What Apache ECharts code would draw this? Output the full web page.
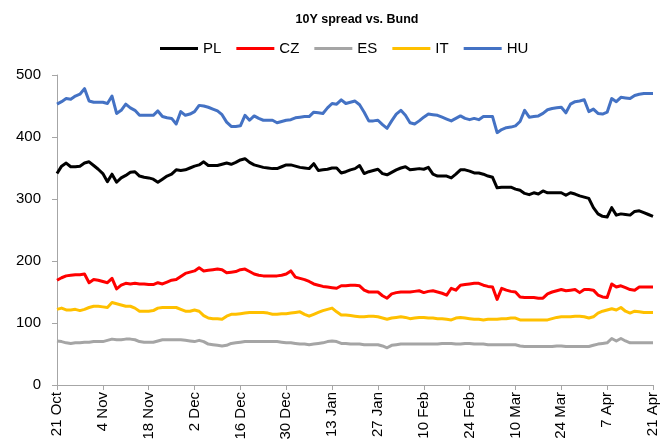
<!DOCTYPE html>
<html><head><meta charset="utf-8">
<script src="https://cdn.jsdelivr.net/npm/echarts@6/dist/echarts.min.js"></script>
<style>html,body{margin:0;padding:0;background:#fff}#c{width:663px;height:446px}</style>
</head><body><div id="c"></div>
<script>
var title = '10Y spread vs. Bund';
var seriesNames = ['PL','CZ','ES','IT','HU'];
var seriesColors = ['#000000','#FF0000','#A5A5A5','#FFC000','#4472C4'];
var startDate = '2024-10-21';
var yTicks = [0,100,200,300,400,500];

var PL = [341,353,358,352,352,353,358,360,354,348,341,328,340,327,334,338,343,344,337,335,
334,332,327,332,337,340,347,346,347,350,353,355,360,354,354,354,356,358,356,359,
363,365,359,355,353,351,350,349,349,352,355,355,353,351,350,349,357,346,347,348,
350,350,342,344,347,349,354,341,344,346,348,341,339,343,347,350,352,347,348,349,
348,351,340,337,337,337,334,340,347,347,345,342,342,340,337,335,318,319,319,319,
316,314,309,307,310,308,313,310,310,310,310,306,310,308,305,303,301,286,276,272,
271,286,274,276,275,274,280,281,278,275,272];
var CZ = [169,173,176,177,178,178,179,165,170,169,167,165,172,155,161,164,163,164,163,163,
162,162,165,163,166,169,170,175,180,182,184,189,184,185,186,187,186,181,182,183,
186,187,183,179,177,176,176,176,176,177,179,184,174,172,170,167,163,161,159,158,
157,156,160,160,161,161,160,153,150,150,150,144,140,147,149,150,150,150,151,152,
149,151,152,150,148,145,156,153,161,162,163,164,164,161,159,158,138,156,153,151,
150,142,141,141,141,140,140,147,150,152,154,152,153,154,149,154,154,153,145,142,
141,163,158,160,157,154,153,158,158,158,158];
var ES = [71,70,68,67,68,68,69,69,70,70,70,72,74,73,73,74,74,73,70,69,
69,69,71,73,73,73,73,73,72,71,70,72,70,66,65,64,63,64,67,68,
69,70,70,70,70,70,70,70,70,69,68,68,67,66,66,65,66,67,68,70,
71,70,67,67,66,66,66,65,65,65,65,63,60,64,65,66,66,66,66,66,
66,66,66,66,67,67,67,66,66,67,67,66,66,66,65,65,65,65,65,65,
65,63,62,62,62,62,62,62,62,63,63,62,62,62,62,62,62,64,66,67,
68,75,71,75,71,68,68,68,68,68,68];
var IT = [122,124,121,121,122,120,122,125,127,127,126,125,133,131,129,127,127,124,119,119,
119,120,124,125,125,125,125,122,119,119,121,119,112,108,107,107,106,111,114,114,
115,116,117,117,117,117,116,114,114,115,115,116,117,118,114,111,114,117,120,122,
124,118,113,113,112,111,110,110,111,111,110,108,106,108,109,110,109,107,108,109,
109,108,108,107,107,106,105,108,109,108,107,106,106,105,106,106,106,107,107,108,
108,105,105,105,105,105,105,105,107,109,110,110,110,111,111,110,108,110,116,119,
121,123,121,125,119,116,119,118,117,117,117];
var HU = [453,457,462,461,466,469,478,458,456,456,456,454,466,438,443,453,447,443,435,435,
435,435,442,433,431,430,421,441,435,437,441,451,450,448,445,442,436,424,417,417,
418,435,427,434,430,427,427,427,423,425,427,428,431,432,433,433,440,439,438,447,
454,453,460,454,456,458,452,440,426,426,427,420,414,426,437,443,435,423,421,426,
432,437,436,435,432,429,426,430,434,430,428,430,428,433,433,433,407,412,415,416,
418,425,443,432,433,434,438,444,446,447,448,439,453,457,458,460,441,445,438,437,
440,462,457,464,463,462,467,469,470,470,470];

var seriesData = [PL, CZ, ES, IT, HU];
var months = ['Jan','Feb','Mar','Apr','May','Jun','Jul','Aug','Sep','Oct','Nov','Dec'];

// business-day categories starting at startDate
var categories = [];
var d = new Date(startDate + 'T12:00:00Z');
while (categories.length < PL.length) {
  var wd = d.getUTCDay();
  if (wd !== 0 && wd !== 6) categories.push(d.getUTCDate() + ' ' + months[d.getUTCMonth()]);
  d.setUTCDate(d.getUTCDate() + 1);
}

var chart = echarts.init(document.getElementById('c'), null, {renderer: 'canvas'});
var FONT = 'Liberation Sans, Arial, sans-serif';
chart.setOption({
  animation: false,
  backgroundColor: '#fff',
  title: {
    text: title, left: 352, top: 8, textAlign: 'center',
    textStyle: {fontFamily: FONT, fontSize: 12.5, fontWeight: 'bold', color: '#000'}
  },
  legend: {
    data: seriesNames, left: 155, top: 36,
    icon: 'rect', itemWidth: 38, itemHeight: 3, itemGap: 15,
    textStyle: {fontFamily: FONT, fontSize: 15, color: '#000', padding: [0,0,0,0]}
  },
  grid: {left: 57, right: 10, top: 75, bottom: 61, containLabel: false},
  xAxis: {
    type: 'category', data: categories, boundaryGap: false,
    axisLine: {lineStyle: {color: '#A6A6A6', width: 1}},
    axisTick: {show: true, interval: 9, length: 5, lineStyle: {color: '#A6A6A6'}},
    axisLabel: {interval: 9, rotate: 90, margin: 7, fontFamily: FONT, fontSize: 15, color: '#000'},
    splitLine: {show: false}
  },
  yAxis: {
    type: 'value', min: yTicks[0], max: yTicks[yTicks.length-1], interval: 100,
    axisLine: {show: true, lineStyle: {color: '#A6A6A6', width: 1}},
    axisTick: {show: true, length: 5, lineStyle: {color: '#A6A6A6'}},
    axisLabel: {margin: 16, fontFamily: FONT, fontSize: 15, color: '#000'},
    splitLine: {show: false}
  },
  series: seriesNames.map(function(n, k){
    return {
      name: n, type: 'line', data: seriesData[k], symbol: 'none',
      color: seriesColors[k],
      lineStyle: {width: 3, color: seriesColors[k], join: 'round'},
      z: 10 - k
    };
  })
});
</script></body></html>
